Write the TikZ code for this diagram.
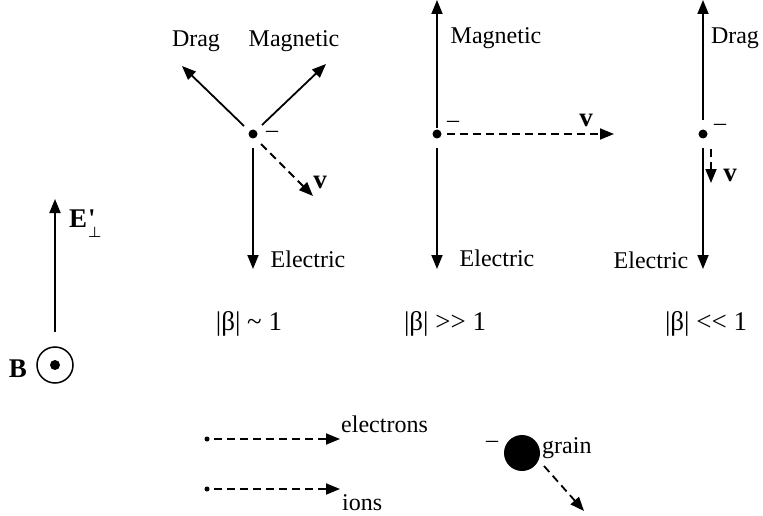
\documentclass[tikz,border=0pt]{standalone}
\usepackage{amsmath}
\usepackage{fontspec}
\setmainfont{Liberation Serif}
\usetikzlibrary{arrows.meta}
\begin{document}
\begin{tikzpicture}[x=1pt,y=-1pt,
  lbl/.style={font=\fontsize{24}{26}\selectfont, inner sep=0pt, anchor=base},
  blbl/.style={font=\fontsize{27}{29}\selectfont\bfseries, inner sep=0pt, anchor=base},
  beta/.style={font=\fontsize{27}{29}\selectfont, inner sep=0pt, anchor=base},
  vec/.style={line width=1.8pt, -{Triangle[length=14pt,width=11pt]}},
  dvec/.style={vec, dash pattern=on 8pt off 5pt},
  pt/.style={circle, fill=black, inner sep=0pt, minimum size=9pt},
  spt/.style={circle, fill=black, inner sep=0pt, minimum size=5pt}]
\useasboundingbox (0,0) rectangle (763,516);

% Panel 1
\node[pt] (d1) at (253,134) {};
\coordinate (d1drag0) at (244,126);
\coordinate (d1drag) at (182,66);
\coordinate (d1mag0) at (262,125);
\coordinate (d1mag) at (326,64);
\coordinate (d1v0) at (261,144);
\coordinate (d1v) at (313,196);
\coordinate (d1e0) at (253,148);
\coordinate (d1e) at (253,269);
\draw[vec] (d1drag0) -- (d1drag);
\draw[vec] (d1mag0) -- (d1mag);
\draw[dvec] (d1v0) -- (d1v);
\draw[vec] (d1e0) -- (d1e);
\node[lbl] (t1drag) at (196,47) {Drag};
\node[lbl] (t1mag) at (294,47) {Magnetic};
\node[lbl] (t1m) at (272,138) {–};
\node[blbl] (t1v) at (320,188) {v};
\node[lbl] (t1e) at (308,267) {Electric};

% Panel 2
\node[pt] (d2) at (437,134) {};
\coordinate (d2up0) at (437,128);
\coordinate (d2up) at (437,0);
\coordinate (d2v0) at (447,134);
\coordinate (d2v) at (614,134);
\coordinate (d2e0) at (437,148);
\coordinate (d2e) at (437,269);
\draw[vec] (d2up0) -- (d2up);
\draw[dvec] (d2v0) -- (d2v);
\draw[vec] (d2e0) -- (d2e);
\node[lbl] (t2mag) at (496,44) {Magnetic};
\node[lbl] (t2m) at (453,128) {–};
\node[blbl] (t2v) at (586,127) {v};
\node[lbl] (t2e) at (497,266) {Electric};

% Panel 3
\node[pt] (d3) at (703,134) {};
\coordinate (d3up0) at (703,120);
\coordinate (d3up) at (703,0);
\coordinate (d3v0) at (711,149);
\coordinate (d3v) at (711,183);
\coordinate (d3e0) at (703,148);
\coordinate (d3e) at (703,269);
\draw[vec] (d3up0) -- (d3up);
\draw[dvec] (d3v0) -- (d3v);
\draw[vec] (d3e0) -- (d3e);
\node[lbl] (t3drag) at (735,44) {Drag};
\node[lbl] (t3m) at (720,131) {–};
\node[blbl] (t3v) at (730,181) {v};
\node[lbl] (t3e) at (651,268) {Electric};

% beta labels
\node[beta] (b1) at (249,330) {|β| \textasciitilde\ 1};
\node[beta] (b2) at (445,330) {|β| >{}> 1};
\node[beta] (b3) at (706,330) {|β| <{}< 1};

% E and B
\coordinate (e0) at (55,332);
\coordinate (e1) at (55,199);
\draw[vec] (e0) -- (e1);
\node[blbl, anchor=base west] (te) at (69,227) {E\kern1pt\rlap{\textquotesingle}\raisebox{-10pt}{\scalebox{0.6}{$\boldsymbol{\perp}$}}};
\node[circle, draw, line width=1.5pt, minimum size=36pt, inner sep=0pt] (bc) at (55,365) {};
\node[pt, minimum size=10pt] (bd) at (55,365) {};
\node[blbl] (tb) at (18,377) {B};

% legend
\node[spt] (el) at (207,439) {};
\coordinate (elt) at (340,439);
\draw[dvec] ([xshift=7pt]el.center) -- (elt);
\node[lbl, anchor=base west] (tel) at (341,432) {electrons};
\node[spt] (io) at (207,489) {};
\coordinate (iot) at (340,489);
\draw[dvec] ([xshift=7pt]io.center) -- (iot);
\node[lbl, anchor=base west] (tio) at (342,510) {ions};
\node[circle, fill=black, inner sep=0pt, minimum size=36pt] (gr) at (522,453) {};
\node[lbl] (tgm) at (492,447) {–};
\node[lbl, anchor=base west] (tgr) at (542,453) {grain};
\coordinate (grt) at (584,511);
\draw[dvec] (544,466) -- (grt);
\end{tikzpicture}
\end{document}
